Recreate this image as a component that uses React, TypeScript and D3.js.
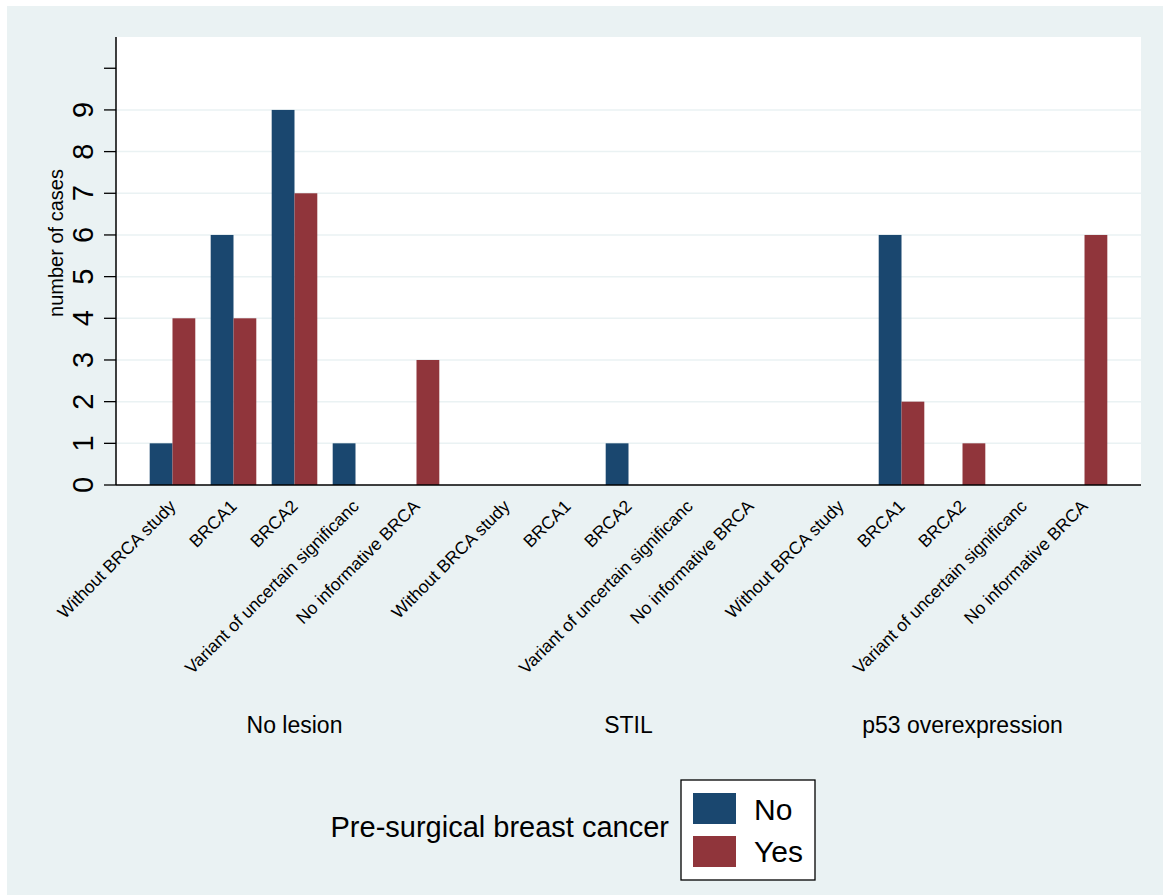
import React from 'react';
import * as d3 from 'd3';

const lesions = ['No lesion', 'STIL', 'p53 overexpression'];
const brcaGroups = [
  'Without BRCA study',
  'BRCA1',
  'BRCA2',
  'Variant of uncertain significanc',
  'No informative BRCA',
];
const cancerKeys = ['No', 'Yes'];

// counts per lesion, per BRCA group, [No, Yes]
const noLesionCounts = [[1, 4], [6, 4], [9, 7], [1, 0], [0, 3]];
const stilCounts = [[0, 0], [0, 0], [1, 0], [0, 0], [0, 0]];
const p53Counts = [[0, 0], [6, 2], [0, 1], [0, 0], [0, 6]];
const allCounts = [noLesionCounts, stilCounts, p53Counts];

const yTicks = [0, 1, 2, 3, 4, 5, 6, 7, 8, 9];
const colors: Record<string, string> = { No: '#1a476f', Yes: '#90353b' };

const W = 1163;
const H = 895;
const BG = '#eaf2f3';
const FONT = '"Liberation Sans", Arial, Helvetica, sans-serif';

const App: React.FC = () => {
  const plot = { left: 116, right: 1141, top: 37, bottom: 485 };

  const outer = d3.scaleBand<string>()
    .domain(lesions)
    .range([plot.left, plot.right])
    .paddingInner(0.0868)
    .paddingOuter(0.0778);

  const inner = d3.scaleBand<string>()
    .domain(brcaGroups)
    .range([0, outer.bandwidth()])
    .padding(0);

  const bar = d3.scaleBand<string>()
    .domain(cancerKeys)
    .range([0, inner.bandwidth()])
    .paddingInner(0)
    .paddingOuter(0.3377);

  const y = d3.scaleLinear().domain([0, 10.75]).range([plot.bottom, plot.top]);

  const bars: { x: number; y: number; w: number; h: number; fill: string; key: string }[] = [];
  lesions.forEach((les, li) => {
    brcaGroups.forEach((g, gi) => {
      cancerKeys.forEach((k, ki) => {
        const v = allCounts[li][gi][ki];
        if (v <= 0) return;
        const x0 = (outer(les) ?? 0) + (inner(g) ?? 0) + (bar(k) ?? 0);
        bars.push({ x: x0, y: y(v), w: bar.bandwidth(), h: y(0) - y(v), fill: colors[k], key: `${li}-${gi}-${k}` });
      });
    });
  });

  return (
    <svg width={W} height={H} style={{ position: 'absolute', left: 0, top: 0 }} fontFamily={FONT}>
      <rect x={0} y={0} width={W} height={H} fill="#ffffff" />
      <rect x={7} y={6} width={W - 7} height={H - 6} fill={BG} />
      <rect x={plot.left} y={plot.top} width={plot.right - plot.left} height={plot.bottom - plot.top} fill="#ffffff" />

      {/* gridlines */}
      {yTicks.filter(t => t > 0).map(t => (
        <line key={`g${t}`} x1={plot.left} x2={plot.right} y1={y(t)} y2={y(t)} stroke={BG} strokeWidth={1.5} />
      ))}

      {bars.map(b => (
        <rect key={b.key} x={b.x} y={b.y} width={b.w} height={b.h} fill={b.fill} />
      ))}

      {/* axes */}
      <line x1={plot.left} x2={plot.left} y1={plot.top} y2={plot.bottom} stroke="#000" strokeWidth={1.5} />
      <line x1={plot.left} x2={plot.right} y1={plot.bottom} y2={plot.bottom} stroke="#000" strokeWidth={1.5} />
      {[...yTicks, 10].map(t => (
        <line key={`t${t}`} x1={plot.left - 12} x2={plot.left} y1={y(t)} y2={y(t)} stroke="#000" strokeWidth={1.3} />
      ))}
      {yTicks.map(t => (
        <text key={`l${t}`} transform={`translate(93,${y(t)}) rotate(-90)`} textAnchor="middle" fontSize={29} fill="#000">
          {t}
        </text>
      ))}
      <text transform="translate(63,243) rotate(-90)" textAnchor="middle" fontSize={20} fill="#000">
        number of cases
      </text>

      {/* category labels */}
      {lesions.map(les => brcaGroups.map(g => {
        const cx = (outer(les) ?? 0) + (inner(g) ?? 0) + inner.bandwidth() / 2;
        return (
          <text key={`${les}-${g}`} transform={`translate(${cx},${plot.bottom + 18}) rotate(-45)`}
            textAnchor="end" dy="0.35em" fontSize={17.5} fill="#000">
            {g}
          </text>
        );
      }))}
      {lesions.map(les => (
        <text key={les} x={(outer(les) ?? 0) + outer.bandwidth() / 2} y={733} textAnchor="middle" fontSize={23} fill="#000">
          {les}
        </text>
      ))}

      {/* legend */}
      <text x={669} y={837} textAnchor="end" fontSize={29} fill="#000">Pre-surgical breast cancer</text>
      <rect x={681} y={780} width={134} height={100} fill="#ffffff" stroke="#000" strokeWidth={1.3} />
      {cancerKeys.map((k, i) => (
        <g key={k}>
          <rect x={693} y={793 + i * 43} width={43} height={31} fill={colors[k]} />
          <text x={754} y={820 + i * 42} fontSize={30} fill="#000">{k}</text>
        </g>
      ))}
    </svg>
  );
};

export default App;
